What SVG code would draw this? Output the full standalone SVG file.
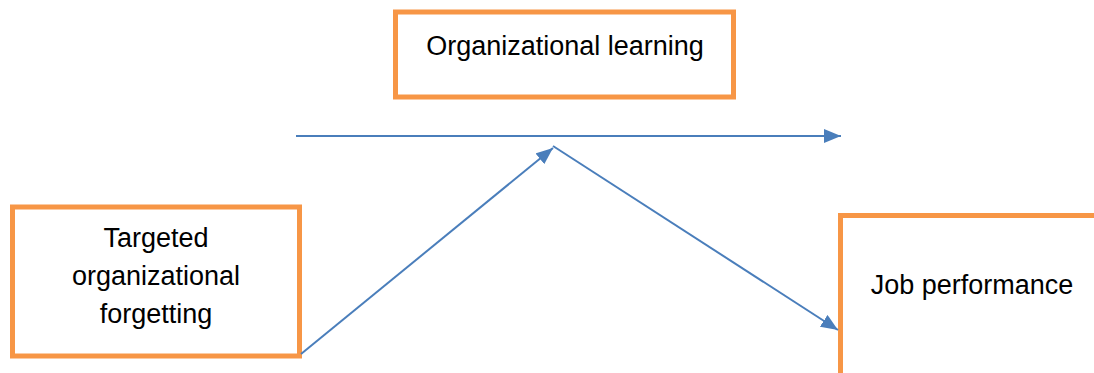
<svg xmlns="http://www.w3.org/2000/svg" width="1094" height="373" viewBox="0 0 1094 373">
  <style>
    .box { fill: #ffffff; stroke: #f79646; stroke-width: 5; }
    .label { font-family: "Liberation Sans", Arial, sans-serif; font-size: 27px; fill: #000000; text-anchor: middle; }
    .conn { stroke: #4a7ebb; stroke-width: 2; fill: none; marker-end: url(#arrow); }
  </style>
  <defs>
    <marker id="arrow" markerUnits="userSpaceOnUse" markerWidth="18" markerHeight="14" refX="17" refY="7" orient="auto">
      <path d="M0,0 L17,7 L0,14 Z" fill="#4a7ebb"/>
    </marker>
  </defs>
  <rect width="1094" height="373" fill="#ffffff"/>
  <g id="node-learning">
    <rect class="box" x="395.5" y="12" width="338" height="85"/>
    <text class="label" x="565" y="55">Organizational learning</text>
  </g>
  <g id="node-forgetting">
    <rect class="box" x="12.5" y="207" width="287" height="149"/>
    <text class="label" x="156" y="247">Targeted</text>
    <text class="label" x="156" y="285">organizational</text>
    <text class="label" x="156" y="323">forgetting</text>
  </g>
  <g id="node-performance">
    <rect class="box" x="840.5" y="215.5" width="270" height="170"/>
    <text class="label" x="972" y="294">Job performance</text>
  </g>
  <g id="connectors">
    <line class="conn" x1="296" y1="136" x2="841" y2="136"/>
    <line class="conn" x1="301" y1="354" x2="553" y2="148"/>
    <line class="conn" x1="553" y1="146" x2="838" y2="330"/>
  </g>
</svg>
